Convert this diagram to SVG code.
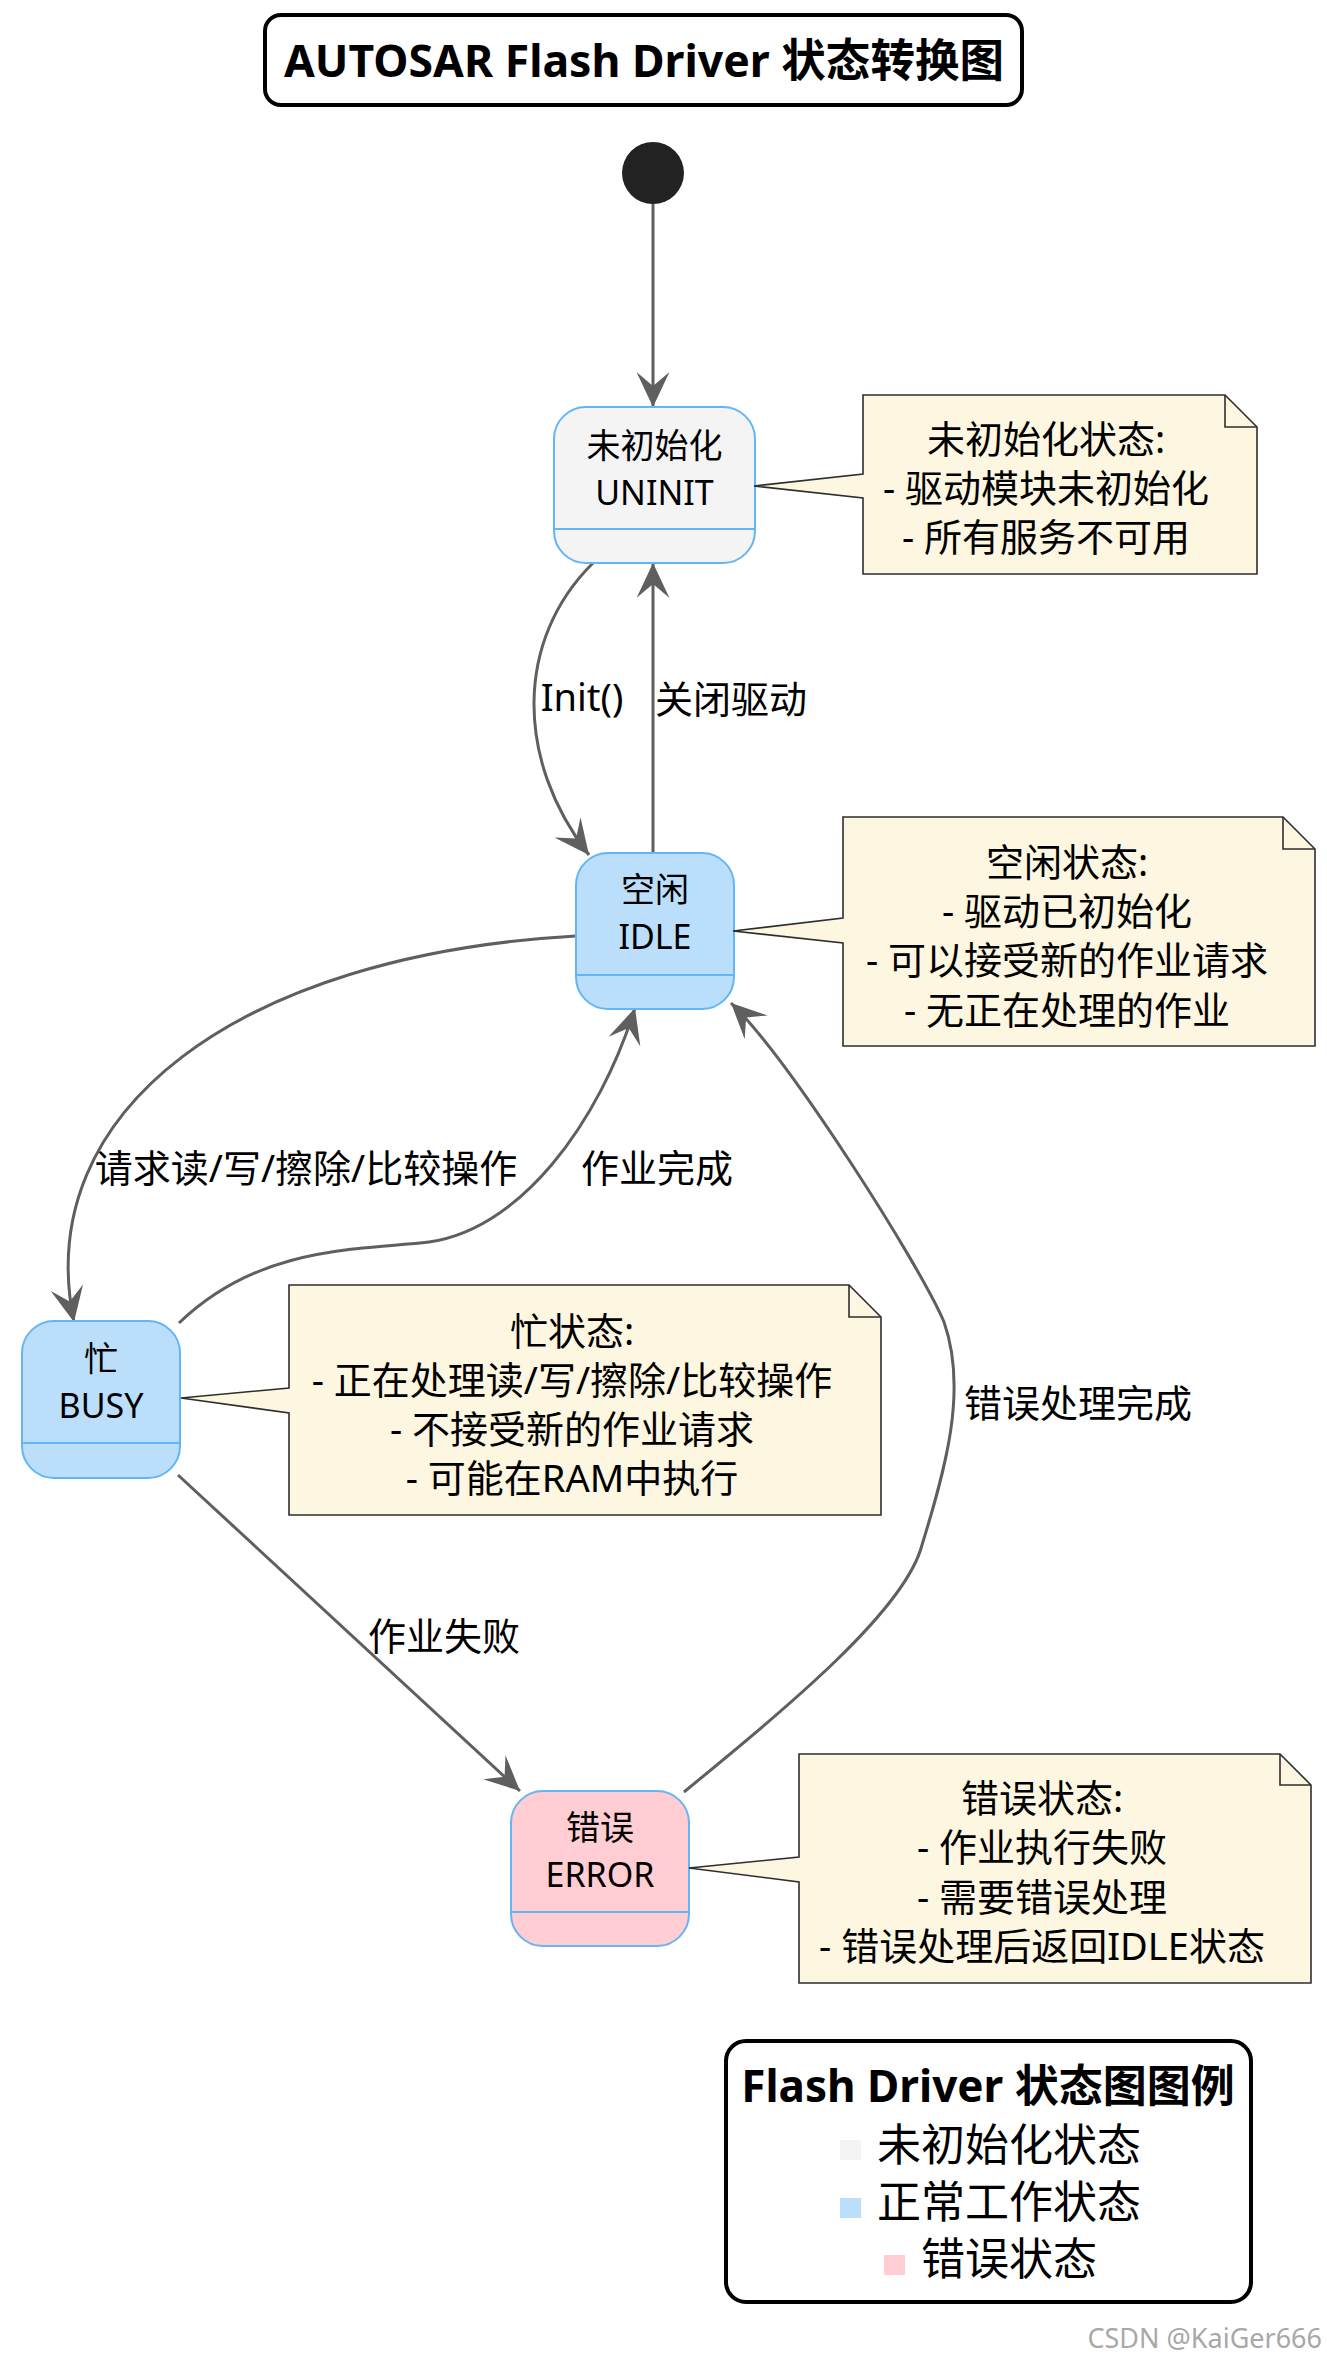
<svg xmlns="http://www.w3.org/2000/svg" width="1327" height="2361" viewBox="0 0 1327 2361">
<defs>
<style>
text { font-family: "Noto Sans", "Noto Sans CJK SC", sans-serif; fill:#000; }
.c { text-anchor: middle; }
.st { stroke:#64B5F6; stroke-width:2; }
.div { stroke:#64B5F6; stroke-width:2; }
.edge { fill:none; stroke:#5f5f5f; stroke-width:3; }
.notebox { fill:#FDF6E0; stroke:#2e2e2e; stroke-width:1.6; }
.fold { fill:none; stroke:#2e2e2e; stroke-width:1.6; }
.nodetext { font-size:34px; }
.notetext { font-size:38px; }
.lbl { font-size:38px; }
.frame { fill:#fff; stroke:#000; stroke-width:4; }
</style>
<marker id="arr" markerUnits="userSpaceOnUse" markerWidth="36" markerHeight="34" viewBox="0 0 36 34" refX="35" refY="16.5" orient="auto">
<path d="M0,0 L35,16.5 L0,33 L14,16.5 Z" fill="#5f5f5f"/>
</marker>
</defs>
<rect width="1327" height="2361" fill="#fff"/>

<g id="title">
<rect class="frame" x="265" y="15" width="757" height="90" rx="16"/>
<text class="c" x="644" y="77" font-size="45" font-weight="bold" textLength="720" lengthAdjust="spacingAndGlyphs">AUTOSAR Flash Driver 状态转换图</text>
</g>

<g id="connectors">
<path class="edge" d="M653,204 L653,407" marker-end="url(#arr)"/>
<path class="edge" d="M593,563 C515,640 515,760 589,855" marker-end="url(#arr)"/>
<path class="edge" d="M653,854 L653,563" marker-end="url(#arr)"/>
<path class="edge" d="M576,936 C240,955 30,1110 74,1322" marker-end="url(#arr)"/>
<path class="edge" d="M179,1323 C250,1255 330,1250 420,1243 C520,1235 600,1120 635,1008" marker-end="url(#arr)"/>
<path class="edge" d="M178,1475 L520,1791" marker-end="url(#arr)"/>
<path class="edge" d="M684,1792 C790,1705 905,1610 922,1545 C945,1470 968,1390 944,1322 C920,1265 790,1060 731,1003" marker-end="url(#arr)"/>
<text class="lbl c" x="582" y="711">Init()</text>
<text class="lbl c" x="731" y="713">关闭驱动</text>
<text class="lbl c" x="306" y="1182">请求读/写/擦除/比较操作</text>
<text class="lbl c" x="657" y="1182">作业完成</text>
<text class="lbl c" x="1078" y="1417">错误处理完成</text>
<text class="lbl c" x="444" y="1650">作业失败</text>
</g>

<g id="node-start">
<circle cx="653" cy="173" r="31" fill="#222"/>
</g>

<g id="node-uninit">
<rect class="st" x="554" y="407" width="201" height="156" rx="32" fill="#F4F4F4"/>
<line class="div" x1="554" y1="529" x2="755" y2="529"/>
<text class="nodetext c" x="654.5" y="458">未初始化</text>
<text class="nodetext c" x="654.5" y="505">UNINIT</text>
</g>

<g id="node-idle">
<rect class="st" x="576" y="853" width="158" height="156" rx="32" fill="#BBDEFB"/>
<line class="div" x1="576" y1="975" x2="734" y2="975"/>
<text class="nodetext c" x="655" y="902">空闲</text>
<text class="nodetext c" x="655" y="949">IDLE</text>
</g>

<g id="node-busy">
<rect class="st" x="22" y="1321" width="158" height="157" rx="32" fill="#BBDEFB"/>
<line class="div" x1="22" y1="1443" x2="180" y2="1443"/>
<text class="nodetext c" x="101" y="1371">忙</text>
<text class="nodetext c" x="101" y="1418">BUSY</text>
</g>

<g id="node-error">
<rect class="st" x="511" y="1791" width="178" height="155" rx="32" fill="#FFCDD2"/>
<line class="div" x1="511" y1="1912" x2="689" y2="1912"/>
<text class="nodetext c" x="600" y="1840">错误</text>
<text class="nodetext c" x="600" y="1887">ERROR</text>
</g>

<g id="note-uninit">
<path class="notebox" d="M863,395 L1225,395 L1257,427 L1257,574 L863,574 L863,498 L754,486 L863,474 Z"/>
<path class="fold" d="M1225,395 L1225,427 L1257,427"/>
<text class="notetext c" x="1046" y="453">未初始化状态:</text>
<text class="notetext c" x="1046" y="502">- 驱动模块未初始化</text>
<text class="notetext c" x="1046" y="551">- 所有服务不可用</text>
</g>

<g id="note-idle">
<path class="notebox" d="M843,817 L1283,817 L1315,849 L1315,1046 L843,1046 L843,943 L733,931 L843,918 Z"/>
<path class="fold" d="M1283,817 L1283,849 L1315,849"/>
<text class="notetext c" x="1067" y="876">空闲状态:</text>
<text class="notetext c" x="1067" y="925">- 驱动已初始化</text>
<text class="notetext c" x="1067" y="974">- 可以接受新的作业请求</text>
<text class="notetext c" x="1067" y="1024">- 无正在处理的作业</text>
</g>

<g id="note-busy">
<path class="notebox" d="M289,1285 L849,1285 L881,1317 L881,1515 L289,1515 L289,1413 L181,1398 L289,1388 Z"/>
<path class="fold" d="M849,1285 L849,1317 L881,1317"/>
<text class="notetext c" x="572" y="1345">忙状态:</text>
<text class="notetext c" x="572" y="1394">- 正在处理读/写/擦除/比较操作</text>
<text class="notetext c" x="572" y="1443">- 不接受新的作业请求</text>
<text class="notetext c" x="572" y="1492">- 可能在RAM中执行</text>
</g>

<g id="note-error">
<path class="notebox" d="M799,1754 L1280,1754 L1311,1785 L1311,1983 L799,1983 L799,1882 L689,1868 L799,1857 Z"/>
<path class="fold" d="M1280,1754 L1280,1785 L1311,1785"/>
<text class="notetext c" x="1042" y="1812">错误状态:</text>
<text class="notetext c" x="1042" y="1861">- 作业执行失败</text>
<text class="notetext c" x="1042" y="1911">- 需要错误处理</text>
<text class="notetext c" x="1042" y="1960">- 错误处理后返回IDLE状态</text>
</g>

<g id="legend">
<rect class="frame" x="726" y="2041" width="525" height="261" rx="20" stroke-width="3.5"/>
<text class="c" x="988" y="2102" font-size="44" font-weight="bold">Flash Driver 状态图图例</text>
<rect x="840" y="2140" width="21" height="20" fill="#F4F4F4"/>
<text x="877" y="2161" font-size="44">未初始化状态</text>
<rect x="840" y="2198" width="21" height="20" fill="#BBDEFB"/>
<text x="877" y="2218" font-size="44">正常工作状态</text>
<rect x="884" y="2255" width="21" height="20" fill="#FFCDD2"/>
<text x="921" y="2275" font-size="44">错误状态</text>
</g>

<text x="1322" y="2348" font-size="27" fill="#a8a8a8" style="fill:#a8a8a8" text-anchor="end">CSDN @KaiGer666</text>
</svg>
